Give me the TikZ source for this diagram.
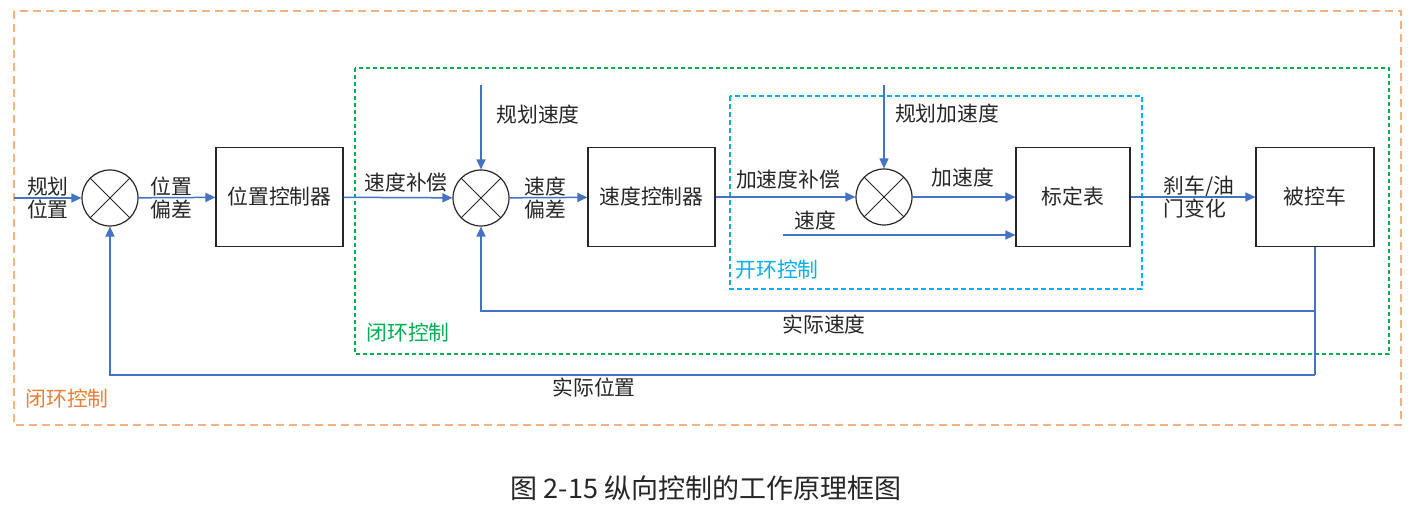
\documentclass[tikz,border=0pt]{standalone}
\usepackage{fontspec}
\setmainfont{Noto Sans CJK SC}
\usepackage{xcolor}
\usepackage{tikz}
\usetikzlibrary{arrows.meta, positioning, calc}

\definecolor{lineblue}{HTML}{4472C4}
\definecolor{loopgreen}{HTML}{00B050}
\definecolor{loopcyan}{HTML}{00B0F0}
\definecolor{looporange}{HTML}{ED7D31}
\definecolor{edgeorange}{HTML}{F4B183}
\definecolor{txtgray}{HTML}{262626}

\begin{document}
\begin{tikzpicture}[
    x=0.5pt, y=-0.5pt,
    blk/.style={draw=txtgray, line width=0.6pt, minimum width=63.5pt,
                minimum height=49.5pt, align=center,
                font=\fontsize{10.4}{12}\selectfont, text=txtgray},
    sumnode/.style={circle, draw=txtgray, line width=0.6pt, minimum size=28pt,
                    inner sep=0pt,
                    path picture={
                      \draw[txtgray, line width=0.5pt]
                        (path picture bounding box.north west) -- (path picture bounding box.south east)
                        (path picture bounding box.north east) -- (path picture bounding box.south west);}},
    lbl/.style={align=center, inner sep=1pt, text=txtgray,
                font=\fontsize{10.4}{11.5}\selectfont},
    tag/.style={inner sep=1pt, font=\fontsize{10.4}{12}\selectfont},
    flow/.style={-{Triangle[length=5pt,width=4.5pt]}, draw=lineblue, line width=0.75pt},
    wire/.style={draw=lineblue, line width=0.75pt},
    outerloop/.style={draw=edgeorange, line width=0.7pt, dash pattern=on 4pt off 2.5pt},
    innerloop/.style={draw=loopgreen, line width=0.6pt, dash pattern=on 2pt off 1.5pt},
    openloop/.style={draw=loopcyan, line width=0.6pt, dash pattern=on 2.5pt off 1.5pt},
]
    \useasboundingbox (0,0) rectangle (1411,512);

    % Loop frames
    \draw[outerloop] (14,11) rectangle (1401,425);
    \draw[innerloop] (355,68) rectangle (1389,354);
    \draw[openloop] (730,96) rectangle (1142,289);

    % Main chain
    \coordinate (in) at (14,198);
    \node[sumnode] (sum1) at (110,198) {};
    \node[blk] (posctrl) at (279.5,197) {位置控制器};
    \node[sumnode] (sum2) at (481,198) {};
    \node[blk] (velctrl) at (651.5,197) {速度控制器};
    \node[sumnode] (sum3) at (884,197) {};
    \node[blk, minimum width=57pt] (calib) at (1073,197) {标定表};
    \node[blk, minimum width=59pt] (car) at (1315,197) {被控车};

    % Reference inputs
    \coordinate (vref) at (481,85);
    \coordinate (aref) at (884,85);
    \coordinate (vin) at (783,235);

    % Feedback corners
    \coordinate (vfb) at (1315,311);
    \coordinate (pfb) at (1315,375);

    % Labels
    \node[lbl] (lrefpos) at (48,198) {规划\\位置};
    \node[lbl] (lposerr) at (171,198) {位置\\偏差};
    \node[lbl] (lvcomp) at (406,183) {速度补偿};
    \node[lbl] (lvref) at (538,115) {规划速度};
    \node[lbl] (lverr) at (545,198) {速度\\偏差};
    \node[lbl] (lacomp) at (788,180) {加速度补偿};
    \node[lbl] (laref) at (947,114) {规划加速度};
    \node[lbl] (lacc) at (963,178) {加速度};
    \node[lbl] (lvel) at (815,221) {速度};
    \node[lbl, align=left, anchor=west] (lbrake) at (1161,197) {刹车/油\\门变化};
    \node[lbl] (lvact) at (824,325) {实际速度};
    \node[lbl] (lpact) at (594,388) {实际位置};

    \node[tag, text=loopcyan] (topen) at (777,270) {开环控制};
    \node[tag, text=loopgreen] (tinner) at (408,333) {闭环控制};
    \node[tag, text=looporange] (touter) at (67,399) {闭环控制};

    % Arrows
    \draw[flow] (in) -- (sum1);
    \draw[flow] (sum1) -- (posctrl);
    \draw[flow] (posctrl) -- (sum2);
    \draw[flow] (vref) -- (sum2);
    \draw[flow] (sum2) -- (velctrl);
    \draw[flow] (velctrl) -- (sum3);
    \draw[flow] (aref) -- (sum3);
    \draw[flow] (sum3) -- (calib);
    \draw[flow] (vin) -- (calib.west |- vin);
    \draw[flow] (calib) -- (car);
    \draw[wire] (car.south) -- (pfb);
    \draw[flow] (pfb) -| (sum1.south);
    \draw[flow] (vfb) -| (sum2.south);

    % Caption
    \node[font=\fontsize{13.5}{15}\selectfont, text=txtgray] (caption) at (706,488) {图 2-15 纵向控制的工作原理框图};
\end{tikzpicture}
\end{document}
